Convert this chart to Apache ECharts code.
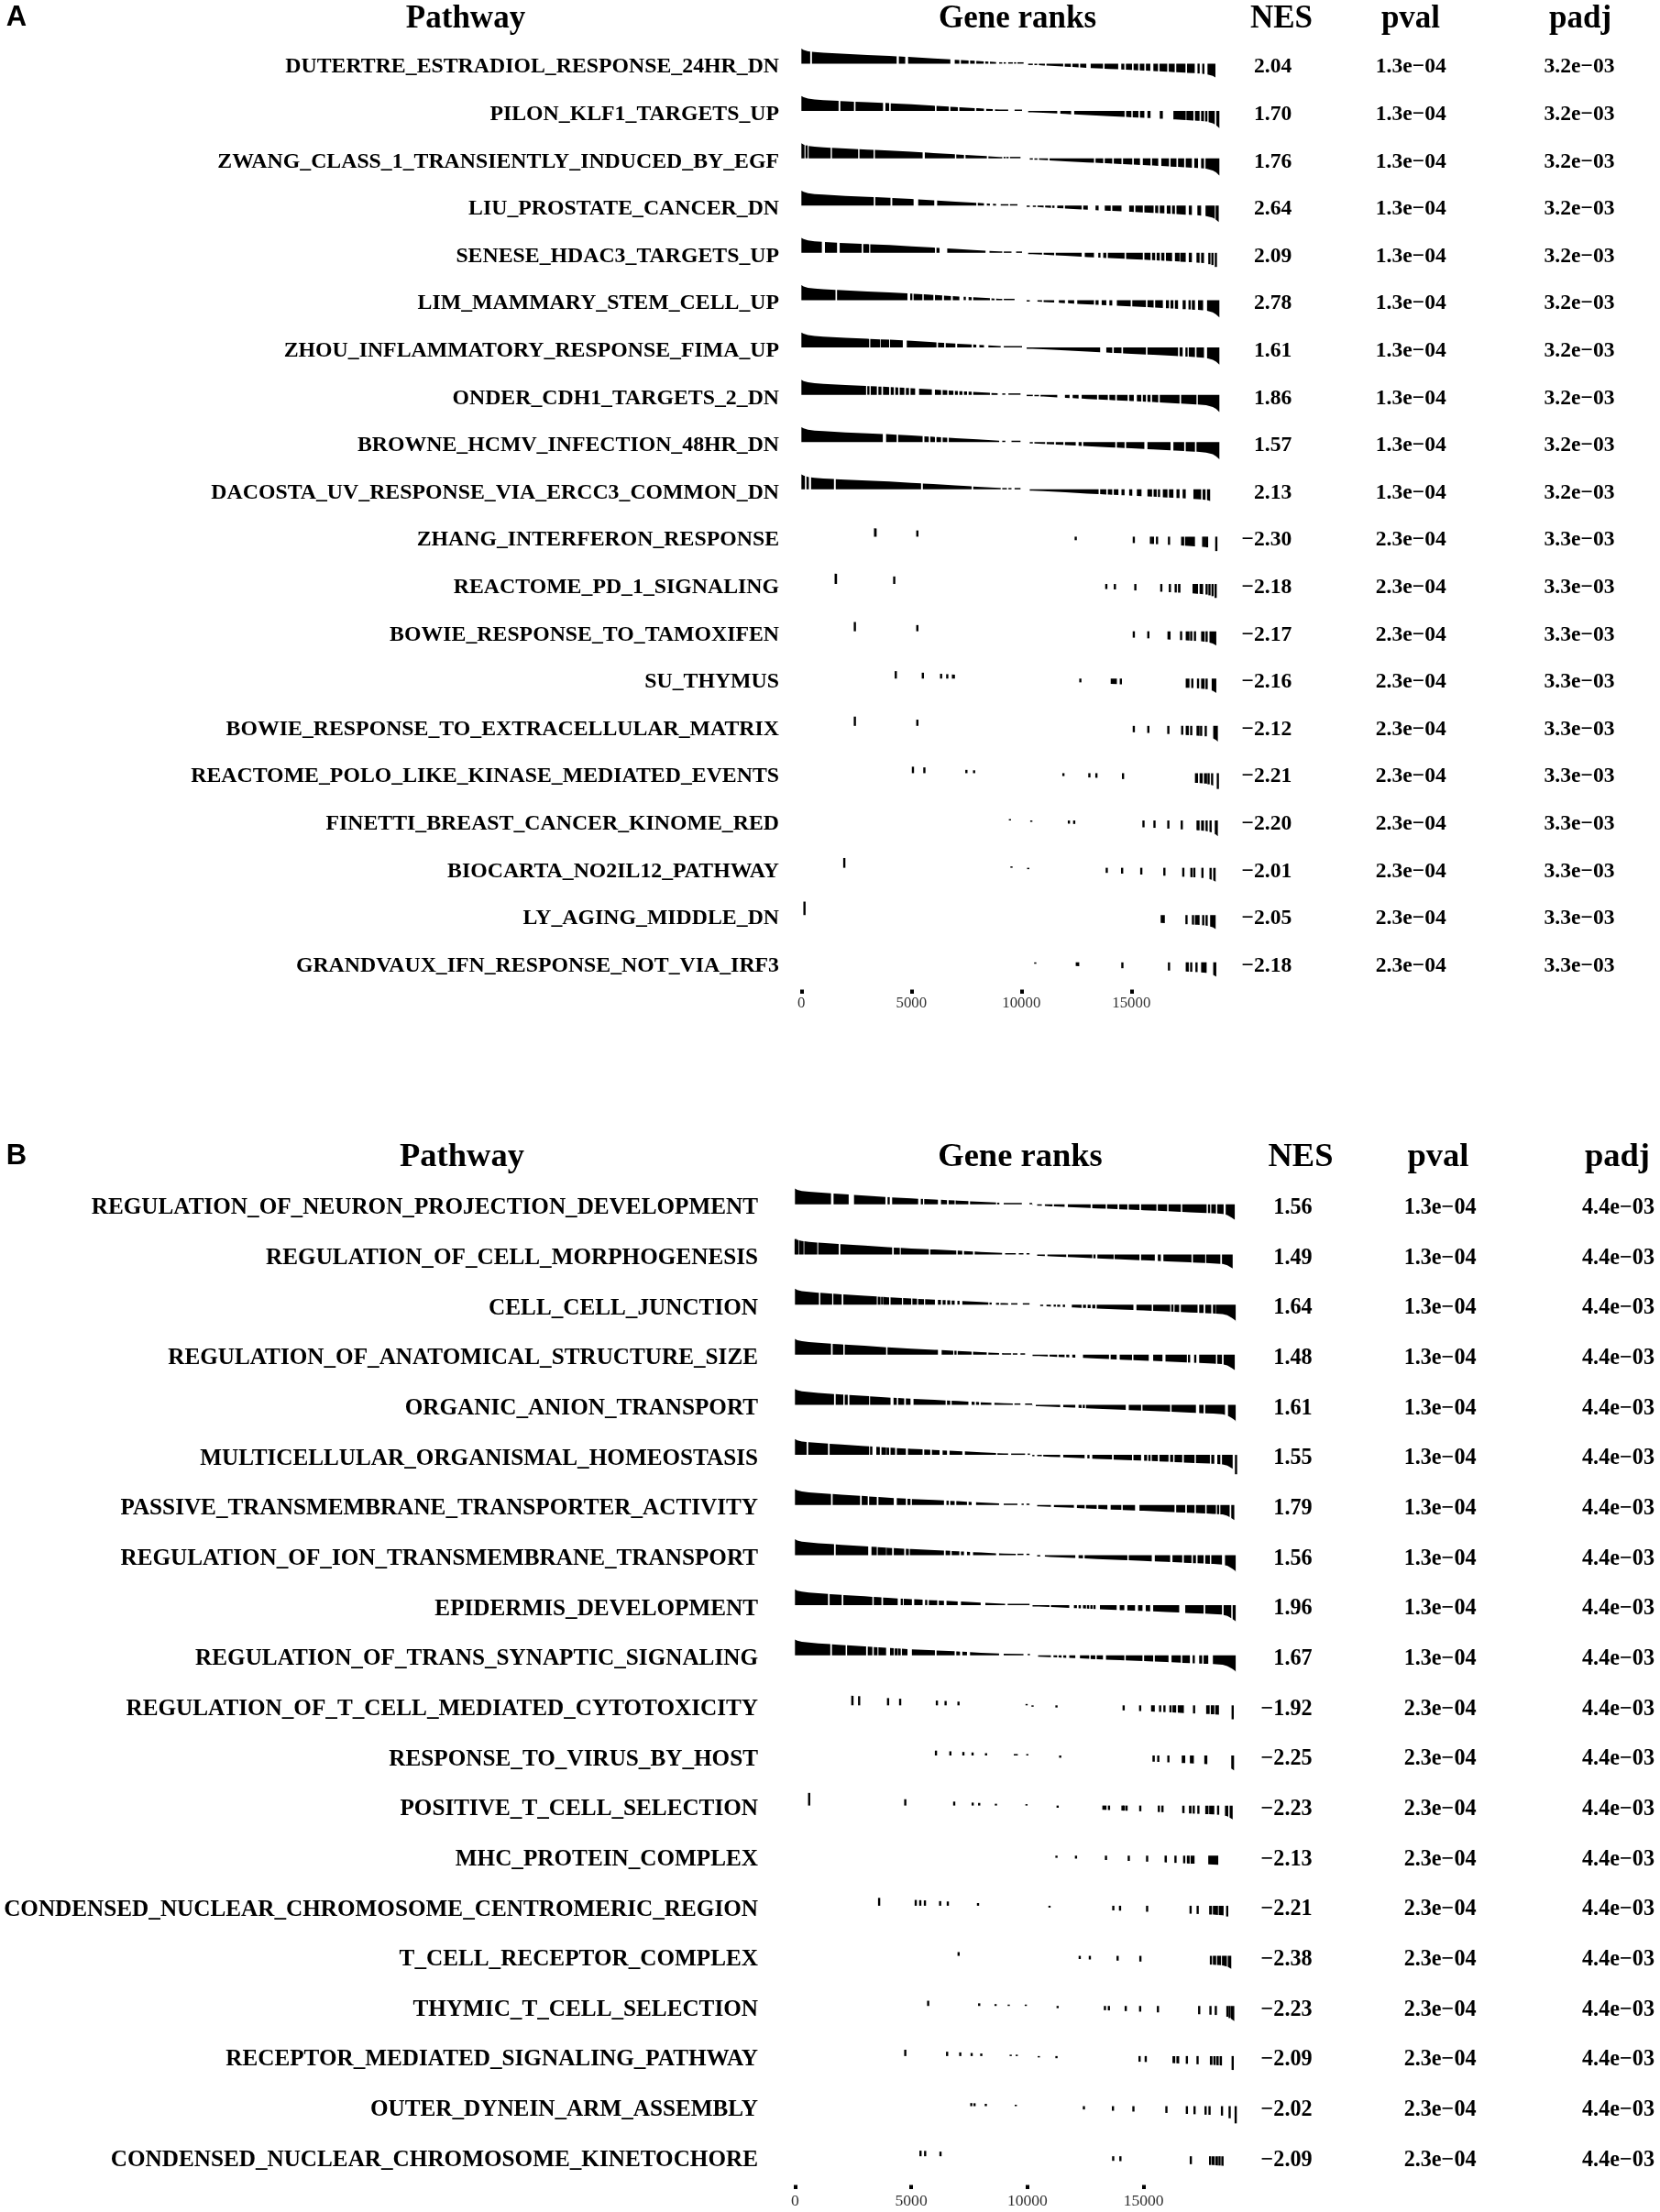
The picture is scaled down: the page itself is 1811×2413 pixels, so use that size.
<!DOCTYPE html>
<html lang="en">
<head>
<meta charset="UTF-8">
<title>Gene set enrichment table</title>
<script src="https://cdn.jsdelivr.net/npm/echarts@6/dist/echarts.min.js"></script>
<style>
    html, body { margin: 0; padding: 0; background: #fff; }
    #main { width: 1811px; height: 2413px; }
</style>
</head>
<body>
<div id="main"></div>
<script>
// ---------- panel A ----------
var namesA = ['DUTERTRE_ESTRADIOL_RESPONSE_24HR_DN', 'PILON_KLF1_TARGETS_UP', 'ZWANG_CLASS_1_TRANSIENTLY_INDUCED_BY_EGF',
    'LIU_PROSTATE_CANCER_DN', 'SENESE_HDAC3_TARGETS_UP', 'LIM_MAMMARY_STEM_CELL_UP', 'ZHOU_INFLAMMATORY_RESPONSE_FIMA_UP',
    'ONDER_CDH1_TARGETS_2_DN', 'BROWNE_HCMV_INFECTION_48HR_DN', 'DACOSTA_UV_RESPONSE_VIA_ERCC3_COMMON_DN',
    'ZHANG_INTERFERON_RESPONSE', 'REACTOME_PD_1_SIGNALING', 'BOWIE_RESPONSE_TO_TAMOXIFEN', 'SU_THYMUS',
    'BOWIE_RESPONSE_TO_EXTRACELLULAR_MATRIX', 'REACTOME_POLO_LIKE_KINASE_MEDIATED_EVENTS', 'FINETTI_BREAST_CANCER_KINOME_RED',
    'BIOCARTA_NO2IL12_PATHWAY', 'LY_AGING_MIDDLE_DN', 'GRANDVAUX_IFN_RESPONSE_NOT_VIA_IRF3'];
var nesA = [2.04, 1.70, 1.76, 2.64, 2.09, 2.78, 1.61, 1.86, 1.57, 2.13,
    -2.30, -2.18, -2.17, -2.16, -2.12, -2.21, -2.20, -2.01, -2.05, -2.18];
var pvalA = [1.3e-4, 1.3e-4, 1.3e-4, 1.3e-4, 1.3e-4, 1.3e-4, 1.3e-4, 1.3e-4, 1.3e-4, 1.3e-4,
    2.3e-4, 2.3e-4, 2.3e-4, 2.3e-4, 2.3e-4, 2.3e-4, 2.3e-4, 2.3e-4, 2.3e-4, 2.3e-4];
var padjA = [3.2e-3, 3.2e-3, 3.2e-3, 3.2e-3, 3.2e-3, 3.2e-3, 3.2e-3, 3.2e-3, 3.2e-3, 3.2e-3,
    3.3e-3, 3.3e-3, 3.3e-3, 3.3e-3, 3.3e-3, 3.3e-3, 3.3e-3, 3.3e-3, 3.3e-3, 3.3e-3];
// ranked statistic (scaled to max 1) along the gene list
var envRankA = [0, 100, 300, 600, 1000, 2000, 3000, 4000, 5000, 6000, 7000, 8000, 9000, 10000, 10200, 10500,
    11000, 12000, 13000, 14000, 15000, 16000, 17000, 18000, 18400, 18700, 18850, 19000];
var envStatA = [1.00, 0.92, 0.83, 0.77, 0.73, 0.65, 0.58, 0.52, 0.44, 0.35, 0.26, 0.18, 0.09, 0.02, 0.00, -0.08,
    -0.12, -0.20, -0.28, -0.35, -0.42, -0.49, -0.57, -0.65, -0.70, -0.82, -0.95, -1.15];
// gene hits per pathway, as [first rank, last rank] runs
var hitsA = [
    [[0,400],[480,4330],[4430,4720],[4850,6770],[6970,7180],[7250,7600],[7670,7880],[7950,8290],[8360,8500],[8570,8850],[8990,9130],[9200,9290],[9400,9610],[9680,9750],[9820,10100],[10310,10520],[10590,10720],[10790,11070],[11140,11900],[11970,12250],[12320,12600],[12670,12950],[13150,13710],[13780,14400],[14540,14680],[14750,15030],[15100,15310],[15380,15590],[15660,15860],[16000,16210],[16280,16630],[16700,16970],[17040,17460],[17530,17880],[18020,18090],[18220,18320],[18460,18820]],
    [[0,1690],[1770,2390],[2460,3710],[3820,3990],[4060,6070],[6140,6700],[6770,7110],[7180,7880],[7950,8300],[8400,8700],[8800,9400],[9690,10030],[10310,11630],[11770,12260],[12400,14690],[14760,15000],[15060,15320],[15390,15590],[15730,15870],[16290,16430],[16910,17470],[17500,17820],[17890,18100],[18170,18300],[18370,18440],[18510,18790],[18860,19000]],
    [[0,140],[190,280],[330,1330],[1390,2580],[2640,3280],[3340,5510],[5610,6980],[7040,7390],[7460,8430],[8500,9130],[9200,9280],[9330,9410],[9480,9960],[10380,10520],[10590,10730],[10800,11210],[11280,13300],[13370,13720],[13790,14130],[14200,14550],[14620,15040],[15110,15390],[15520,15870],[15940,16220],[16360,16710],[16780,17050],[17120,17400],[17470,17750],[17860,18030],[18170,18300],[18370,19000]],
    [[0,3290],[3360,4050],[4130,5100],[5310,6040],[6170,7950],[8020,8300],[8430,8570],[8710,8850],[9060,9410],[9480,9820],[10240,10380],[10520,10660],[10730,11010],[11080,11350],[11420,11490],[11630,11910],[11980,12740],[12810,13020],[13370,13510],[13790,14060],[14130,14550],[14900,15110],[15180,15520],[15590,16010],[16080,16220],[16290,16500],[16610,16780],[16850,16980],[17050,17470],[17610,17750],[18000,18170],[18370,18790],[18830,18970]],
    [[0,930],[1070,1620],[1740,2740],[2810,3080],[3130,6070],[6140,6280],[6630,8370],[8550,9130],[9200,9550],[9760,10030],[10310,10940],[11010,11490],[11560,12740],[12880,13300],[13510,13580],[13720,13860],[13930,14690],[14760,15520],[15590,15870],[15940,16080],[16150,16290],[16360,16500],[16570,16850],[16980,17190],[17220,17470],[17610,17750],[17960,18100],[18170,18300],[18510,18580],[18650,18720],[18790,18890]],
    [[0,1550],[1620,4820],[4960,5030],[5100,5500],[5560,6000],[6070,6400],[6480,6800],[6880,7180],[7390,7460],[7600,7740],[7810,8570],[8640,8780],[8850,9130],[9200,9690],[10240,10380],[10730,10940],[11010,11490],[11700,11980],[12120,12400],[12540,13300],[13370,13510],[13650,13860],[14000,14130],[14340,14970],[15040,15660],[15730,16010],[16080,16430],[16570,16710],[16780,16910],[16980,17120],[17330,17470],[17610,17680],[17750,17890],[18030,18260],[18440,19000]],
    [[0,3080],[3130,3570],[3600,3990],[4030,4610],[4790,6140],[6210,6490],[6560,7000],[7080,7740],[7810,7950],[8090,8300],[8500,9060],[9200,10030],[10240,13580],[13860,14130],[14200,14550],[14620,15660],[15730,17120],[17190,17330],[17470,17540],[17610,17890],[17960,18300],[18440,19000]],
    [[0,2940],[3010,3080],[3150,3430],[3500,3640],[3710,3990],[4060,4200],[4270,4400],[4470,4680],[4750,4890],[4960,5170],[5350,5930],[6070,6350],[6420,6630],[6700,6910],[6980,7110],[7180,7320],[7390,7530],[7600,7740],[7810,8570],[8640,8920],[9130,9270],[9410,9960],[10240,10520],[10590,10800],[10870,11630],[11980,12190],[12330,12600],[12740,13440],[13510,13930],[14000,14270],[14340,14830],[14900,15110],[15250,15450],[15520,15660],[15730,15870],[15940,16220],[16290,17190],[17260,17960],[18020,19000]],
    [[0,3700],[3850,4330],[4400,5510],[5590,5790],[5860,6070],[6140,6350],[6420,6630],[6700,8990],[9130,9270],[9550,9960],[10380,10520],[10590,11080],[11150,11490],[11560,11910],[11980,12470],[12600,12740],[12810,14270],[14340,14690],[14760,15590],[15730,16780],[16910,17400],[17470,17890],[17960,19000]],
    [[0,160],[230,340],[440,1480],[1560,5440],[5520,7740],[7810,9060],[9130,9340],[9410,9550],[9690,9960],[10380,13510],[13580,13860],[13930,14130],[14200,14410],[14550,14690],[14900,15040],[15250,15460],[15730,15940],[16010,16150],[16220,16290],[16430,16640],[16710,16910],[17050,17190],[17330,17470],[17820,18170],[18240,18370],[18440,18580]],
    [[3300,3420],[5270,5270],[12470,12470],[15110,15110],[15880,15900],[15960,16000],[16150,16180],[16700,16720],[17260,17400],[17440,17890],[18230,18300],[18330,18370],[18440,18440],[18860,18860]],
    [[1510,1620],[4220,4220],[13860,13860],[14250,14250],[15180,15180],[16360,16360],[16750,16750],[16980,17050],[17120,17230],[17780,18030],[18100,18260],[18420,18420],[18550,18550],[18690,18690],[18830,18830]],
    [[2430,2430],[5270,5270],[15110,15110],[15770,15770],[16640,16780],[17260,17260],[17470,17640],[17720,17720],[17890,17890],[18170,18330],[18420,18420],[18550,18860]],
    [[4290,4290],[5520,5520],[6350,6350],[6630,6630],[6840,6980],[12680,12680],[14060,14340],[14520,14520],[17470,17640],[17720,17820],[18030,18030],[18170,18330],[18420,18420],[18650,18860]],
    [[2430,2430],[5270,5270],[15110,15110],[15770,15770],[16680,16680],[17260,17360],[17470,17610],[17720,17720],[17960,18100],[18170,18170],[18380,18380],[18720,18930]],
    [[5070,5070],[5590,5590],[7500,7500],[7850,7850],[11910,11910],[13090,13090],[13410,13410],[14620,14620],[17890,18030],[18100,18240],[18300,18440],[18510,18510],[18620,18720],[18930,18930]],
    [[9480,9480],[10450,10450],[12160,12160],[12400,12400],[15550,15550],[16050,16050],[16680,16680],[17290,17290],[17960,18100],[18170,18300],[18370,18470],[18550,18650],[18790,18930]],
    [[1900,2000],[9550,9550],[10310,10310],[13880,13880],[14580,14580],[15450,15450],[16500,16500],[17360,17360],[17680,17780],[17860,17860],[18230,18230],[18550,18650],[18720,18830]],
    [[140,140],[16330,16520],[17470,17540],[17750,17850],[17890,18100],[18230,18300],[18370,18470],[18580,18830]],
    [[10630,10630],[12470,12630],[14590,14590],[16710,16710],[17470,17610],[17720,17720],[17960,17960],[18170,18420],[18720,18860]]
];

// ---------- panel B ----------
var namesB = ['REGULATION_OF_NEURON_PROJECTION_DEVELOPMENT', 'REGULATION_OF_CELL_MORPHOGENESIS', 'CELL_CELL_JUNCTION',
    'REGULATION_OF_ANATOMICAL_STRUCTURE_SIZE', 'ORGANIC_ANION_TRANSPORT', 'MULTICELLULAR_ORGANISMAL_HOMEOSTASIS',
    'PASSIVE_TRANSMEMBRANE_TRANSPORTER_ACTIVITY', 'REGULATION_OF_ION_TRANSMEMBRANE_TRANSPORT', 'EPIDERMIS_DEVELOPMENT',
    'REGULATION_OF_TRANS_SYNAPTIC_SIGNALING', 'REGULATION_OF_T_CELL_MEDIATED_CYTOTOXICITY', 'RESPONSE_TO_VIRUS_BY_HOST',
    'POSITIVE_T_CELL_SELECTION', 'MHC_PROTEIN_COMPLEX', 'CONDENSED_NUCLEAR_CHROMOSOME_CENTROMERIC_REGION',
    'T_CELL_RECEPTOR_COMPLEX', 'THYMIC_T_CELL_SELECTION', 'RECEPTOR_MEDIATED_SIGNALING_PATHWAY',
    'OUTER_DYNEIN_ARM_ASSEMBLY', 'CONDENSED_NUCLEAR_CHROMOSOME_KINETOCHORE'];
var nesB = [1.56, 1.49, 1.64, 1.48, 1.61, 1.55, 1.79, 1.56, 1.96, 1.67,
    -1.92, -2.25, -2.23, -2.13, -2.21, -2.38, -2.23, -2.09, -2.02, -2.09];
var pvalB = [1.3e-4, 1.3e-4, 1.3e-4, 1.3e-4, 1.3e-4, 1.3e-4, 1.3e-4, 1.3e-4, 1.3e-4, 1.3e-4,
    2.3e-4, 2.3e-4, 2.3e-4, 2.3e-4, 2.3e-4, 2.3e-4, 2.3e-4, 2.3e-4, 2.3e-4, 2.3e-4];
var padjB = [4.4e-3, 4.4e-3, 4.4e-3, 4.4e-3, 4.4e-3, 4.4e-3, 4.4e-3, 4.4e-3, 4.4e-3, 4.4e-3,
    4.4e-3, 4.4e-3, 4.4e-3, 4.4e-3, 4.4e-3, 4.4e-3, 4.4e-3, 4.4e-3, 4.4e-3, 4.4e-3];
var envRankB = [0, 100, 300, 600, 1000, 2000, 3000, 4000, 5000, 6000, 7000, 8000, 9000, 10000, 10200, 10500,
    11000, 12000, 13000, 14000, 15000, 16000, 17000, 18000, 18400, 18600, 18800, 18900, 18950, 19000];
var envStatB = [1.00, 0.92, 0.85, 0.80, 0.75, 0.65, 0.56, 0.46, 0.38, 0.31, 0.24, 0.16, 0.09, 0.01, 0.00, -0.08,
    -0.12, -0.18, -0.25, -0.31, -0.37, -0.43, -0.50, -0.56, -0.60, -0.68, -0.85, -0.95, -1.00, -1.45];
var hitsB = [
    [[0,1550],[1660,2310],[2540,3890],[4010,4050],[4180,5300],[5430,5490],[5560,6150],[6280,6540],[6610,6870],[6910,7460],[7530,8650],[8710,8780],[8980,9760],[10090,10220],[10420,10620],[10750,11080],[11140,11600],[11740,12720],[12790,13370],[13430,13880],[13950,14300],[14360,14820],[14890,15550],[15610,16010],[16070,16600],[16660,17710],[17780,17850],[17910,18110],[18170,18440],[18530,18920]],
    [[0,60],[90,110],[170,370],[400,960],[1000,1880],[1950,4180],[4250,4510],[4550,5760],[5820,6940],[7000,7200],[7270,7660],[7730,8910],[9040,9500],[9630,9830],[9960,10090],[10420,10750],[10860,11670],[11740,12790],[12850,12920],[13010,13710],[13750,14820],[14890,15480],[15610,15740],[15850,17060],[17120,17650],[17690,18300],[18370,18830]],
    [[0,1030],[1090,1600],[1650,2010],[2080,3520],[3560,3680],[3720,3780],[3810,4050],[4110,4600],[4650,5000],[5050,5250],[5300,5550],[5600,6020],[6150,6280],[6350,6480],[6550,6680],[6740,6870],[7000,7070],[7200,8320],[8380,8450],[8650,8780],[8840,9170],[9300,9570],[9800,10090],[10550,10680],[10820,11010],[11140,11210],[11280,11410],[11540,11600],[11910,12330],[12390,12520],[12590,12720],[12790,12920],[12980,14560],[14690,15350],[15410,16140],[16200,16270],[16330,16530],[16600,17320],[17390,17580],[17650,17910],[17980,18100],[18110,18960]],
    [[0,1550],[1620,2080],[2140,3920],[3980,6150],[6310,6810],[6870,6940],[7000,7600],[7660,8250],[8320,8780],[8910,9300],[9370,9570],[9700,9900],[10220,10880],[10950,11280],[11340,11600],[11670,11800],[11930,12060],[12390,13510],[13580,13840],[13970,14500],[14560,15220],[15410,15810],[15940,16860],[16920,16990],[17190,17250],[17390,18110],[18170,18370],[18440,18920]],
    [[0,1680],[1750,2080],[2140,2270],[2340,3190],[3230,4110],[4240,4380],[4440,4700],[4770,4970],[5100,6480],[6540,6680],[6740,7460],[7600,7730],[7790,7920],[7990,8450],[8580,9370],[9440,9700],[9900,10220],[10360,11410],[11540,12060],[12200,12330],[12390,12460],[12520,14230],[14360,14890],[14950,16140],[16200,17250],[17390,17580],[17650,18500],[18630,18960]],
    [[0,500],[570,1420],[1490,3190],[3230,3330],[3500,3650],[3720,3920],[3940,4050],[4110,4310],[4380,4770],[4860,5490],[5560,5820],[5890,6220],[6350,6540],[6650,7200],[7310,8650],[8710,9170],[9300,9900],[10030,10090],[10220,10290],[10420,10620],[10680,11410],[11540,12460],[12590,12660],[12790,13640],[13710,14500],[14560,14890],[15020,15150],[15220,15280],[15350,15610],[15680,16070],[16140,16270],[16330,16660],[16730,17190],[17250,17850],[17910,18040],[18170,18300],[18370,18830],[18950,19000]],
    [[0,1550],[1620,2800],[2870,3130],[3190,3520],[3590,4250],[4380,4770],[4840,4970],[5030,6410],[6520,6610],[6680,6870],[6940,7400],[7470,7600],[7790,8780],[8980,9570],[9760,9830],[9960,10090],[10420,11010],[11140,12000],[12130,12460],[12520,12980],[13050,13440],[13580,14040],[14100,14630],[14820,16330],[16400,16790],[16860,17190],[17250,17650],[17710,18110],[18170,18240],[18300,18700],[18770,18900]],
    [[0,1680],[1750,3150],[3290,3520],[3560,3920],[3940,4180],[4250,4700],[4770,4900],[4940,6410],[6480,6680],[6740,7070],[7140,7270],[7400,7530],[7660,8650],[8780,9500],[9570,9830],[9960,10090],[10420,10550],[10750,12060],[12200,12390],[12460,14300],[14360,15350],[15480,16140],[16240,16660],[16730,17060],[17120,17250],[17320,17580],[17650,17850],[17910,18370],[18500,18960]],
    [[0,1420],[1490,2010],[2080,3330],[3390,3720],[3790,4420],[4550,4640],[4680,5030],[5130,5490],[5600,5690],[5760,6120],[6190,6410],[6520,7000],[7140,7990],[8190,9040],[9150,10090],[10220,10950],[11010,11800],[12000,12130],[12200,12300],[12390,12520],[12560,12660],[12720,12790],[12850,12920],[13120,13840],[13970,14170],[14300,14630],[14760,14950],[15090,15280],[15410,16530],[16790,17580],[17650,18370],[18440,18770],[18830,18960]],
    [[0,1520],[1590,2180],[2240,3060],[3130,3330],[3390,3550],[3590,3920],[4090,4250],[4290,4420],[4440,4550],[4600,4840],[5030,6020],[6090,6870],[6940,7100],[7200,7400],[7530,8780],[8980,9830],[10030,10090],[10460,11010],[11120,11280],[11340,11470],[11540,11670],[11800,12060],[12260,12660],[12720,12920],[12980,13250],[13380,14170],[14230,14950],[15020,15410],[15480,16070],[16200,16600],[16660,16990],[17120,17190],[17390,17520],[17580,17780],[17980,18960]],
    [[2420,2520],[2730,2790],[3970,4040],[4480,4570],[6070,6140],[6450,6510],[7010,7060],[9950,9980],[10220,10220],[11250,11250],[14140,14140],[14850,14850],[15320,15480],[15680,15740],[15850,15940],[16110,16200],[16240,16400],[16470,16730],[17130,17210],[17690,17840],[17890,18040],[18080,18240],[18800,18860]],
    [[6030,6100],[6660,6710],[7210,7280],[7600,7680],[8190,8250],[9440,9480],[9520,9560],[9970,10020],[11410,11410],[15380,15480],[15590,15670],[16040,16090],[16640,16790],[16990,17160],[17610,17740],[18770,18890]],
    [[600,620],[4740,4750],[6810,6890],[7600,7690],[7890,7960],[8620,8670],[9960,9960],[11300,11300],[13250,13290],[13330,13380],[13480,13540],[14070,14110],[14130,14170],[14230,14300],[14820,14890],[15610,15700],[15770,15850],[16660,16760],[16950,17060],[17120,17190],[17320,17390],[17650,17790],[17820,18040],[18170,18240],[18500,18640],[18700,18830]],
    [[11250,11250],[12090,12090],[13380,13380],[14360,14360],[15150,15150],[15900,16000],[16340,16400],[16700,16790],[16860,16980],[17020,17190],[17780,18210]],
    [[3600,3640],[5180,5210],[5380,5400],[5580,5600],[6240,6250],[6570,6580],[7850,7900],[10950,10950],[13660,13730],[13960,14010],[15150,15150],[17010,17030],[17310,17340],[17820,17940],[17980,18200],[18230,18440],[18590,18600]],
    [[7010,7070],[12240,12260],[12670,12700],[13880,13880],[14860,14860],[17850,17940],[17980,18120],[18160,18330],[18370,18580],[18620,18770]],
    [[5730,5730],[7920,7930],[8590,8670],[9190,9200],[9930,9930],[11300,11300],[13290,13380],[13480,13530],[14230,14230],[14850,14850],[15590,15640],[17390,17390],[17850,17900],[18090,18120],[18570,18640],[18680,18720],[18760,18900]],
    [[4740,4750],[6520,6570],[7110,7110],[7600,7600],[7990,8040],[9280,9280],[9540,9540],[10490,10490],[11250,11250],[14800,14850],[15070,15110],[16240,16360],[16410,16530],[16860,16860],[17320,17320],[17850,17960],[18000,18100],[18130,18230],[18270,18370],[18830,18830]],
    [[7570,7600],[7710,7740],[8210,8210],[9500,9500],[12430,12430],[13680,13680],[14560,14560],[15980,15980],[16860,16860],[17190,17190],[17650,17680],[17820,17850],[18370,18370],[18700,18700],[18960,18960]],
    [[5370,5430],[5570,5630],[6260,6260],[13660,13720],[13970,14030],[17030,17030],[17820,17900],[17930,18050],[18080,18200],[18230,18300],[18340,18440]]
];

var rankTicks = [0, 5000, 10000, 15000];

// ---------- helpers ----------
var SERIF = 'Liberation Serif';

function fmtNes(v) {
    return v.toFixed(2).replace('-', '\u2212');
}
function fmtP(v) {
    var parts = v.toExponential(1).split('e');
    var ex = parseInt(parts[1], 10);
    var abs = Math.abs(ex);
    return parts[0] + 'e' + (ex < 0 ? '\u2212' : '+') + (abs < 10 ? '0' : '') + abs;
}

function makeRender(envRank, envStat) {
    function statAt(r) {
        if (r <= envRank[0]) return envStat[0];
        for (var k = 1; k < envRank.length; k++) {
            if (r <= envRank[k]) {
                var t = (r - envRank[k - 1]) / (envRank[k] - envRank[k - 1]);
                return envStat[k - 1] + t * (envStat[k] - envStat[k - 1]);
            }
        }
        return envStat[envStat.length - 1];
    }
    return function (params, api) {
        var row = api.value(0), s = api.value(1), e = api.value(2);
        var band = api.size([0, 1])[1];
        var p0 = api.coord([s, row]);
        var base = p0[1] - 0.075 * band;
        var amp = 0.316 * band;
        function yOf(r) {
            var h = amp * statAt(r);
            if (Math.abs(h) < 1.5) h = h < 0 ? -1.5 : 1.5;
            return base - h;
        }
        var x0 = p0[0], x1 = api.coord([e, row])[0];
        if (x1 - x0 < 2.4) {
            var xm = (x0 + x1) / 2, y = yOf((s + e) / 2);
            return {
                type: 'rect',
                shape: {x: xm - 1.2, y: Math.min(y, base), width: 2.4, height: Math.abs(base - y)},
                style: {fill: '#000'}
            };
        }
        var pts = [[x0, base], [x0, yOf(s)]];
        for (var k = 0; k < envRank.length; k++) {
            if (envRank[k] > s && envRank[k] < e) {
                pts.push([api.coord([envRank[k], row])[0], yOf(envRank[k])]);
            }
        }
        pts.push([x1, yOf(e)], [x1, base]);
        return {type: 'polygon', shape: {points: pts}, style: {fill: '#000'}};
    };
}

function runData(hits) {
    var out = [];
    hits.forEach(function (runs, i) {
        runs.forEach(function (r) { out.push([i, r[0], r[1]]); });
    });
    return out;
}

// ---------- layout ----------
var panels = [
    {names: namesA, nes: nesA, pval: pvalA, padj: padjA, envRank: envRankA, envStat: envStatA, hits: hitsA,
        left: 874.3, top: 47.5, width: 456, height: 1032,
        nameFont: 23.8, nameMargin: 24.3, valFont: 23.6, nesMargin: 79, pvalMargin: 209, padjMargin: 392.7,
        tickFont: 16.8, tickMargin: 7,
        headY: 21, headFont: 35, heads: [['Pathway', 508], ['Gene ranks', 1110], ['NES', 1398], ['pval', 1539], ['padj', 1724]],
        tagY: 19.5, tag: 'A'},
    {names: namesB, nes: nesB, pval: pvalB, padj: padjB, envRank: envRankB, envStat: envStatB, hits: hitsB,
        left: 867.3, top: 1290.6, width: 481.8, height: 1093,
        nameFont: 25.2, nameMargin: 40.3, valFont: 24.2, nesMargin: 82.6, pvalMargin: 222, padjMargin: 416.4,
        tickFont: 17.6, tickMargin: 8.5,
        headY: 1263, headFont: 36.5, heads: [['Pathway', 504], ['Gene ranks', 1113], ['NES', 1419], ['pval', 1569], ['padj', 1764.5]],
        tagY: 1261, tag: 'B'}
];

var option = {
    animation: false,
    backgroundColor: '#fff',
    grid: [], xAxis: [], yAxis: [], series: [], graphic: []
};

panels.forEach(function (p, g) {
    option.grid.push({left: p.left, top: p.top, width: p.width, height: p.height, containLabel: false});
    option.xAxis.push({
        gridIndex: g, type: 'value', min: 0, max: 19000, position: 'bottom',
        axisLine: {show: false, onZero: false}, splitLine: {show: false},
        axisTick: {show: true, customValues: rankTicks, length: 4.5, lineStyle: {color: '#000', width: 4}},
        axisLabel: {customValues: rankTicks, margin: p.tickMargin, fontFamily: SERIF, fontSize: p.tickFont, color: '#333',
            formatter: function (v) { return String(v); }}
    });
    var yBase = option.yAxis.length;
    option.yAxis.push({gridIndex: g, type: 'value', min: -0.5, max: 19.5, inverse: true, show: false,
        axisLine: {onZero: false}});
    function catAxis(position, margin, align, font, weight, formatter) {
        return {
            gridIndex: g, type: 'category', data: p.names, inverse: true, position: position, offset: 0,
            axisLine: {show: false, onZero: false}, axisTick: {show: false}, splitLine: {show: false},
            axisLabel: {interval: 0, margin: margin, align: align, fontFamily: SERIF, fontWeight: weight,
                fontSize: font, color: '#000', formatter: formatter}
        };
    }
    option.yAxis.push(catAxis('left', p.nameMargin, 'right', p.nameFont, 'bold', null));
    option.yAxis.push(catAxis('right', p.nesMargin, 'right', p.valFont, 'bold', function (v, i) { return fmtNes(p.nes[i]); }));
    option.yAxis.push(catAxis('right', p.pvalMargin, 'center', p.valFont, 'bold', function (v, i) { return fmtP(p.pval[i]); }));
    option.yAxis.push(catAxis('right', p.padjMargin, 'center', p.valFont, 'bold', function (v, i) { return fmtP(p.padj[i]); }));

    option.series.push({
        type: 'custom', name: 'ranks' + p.tag, xAxisIndex: g, yAxisIndex: yBase,
        encode: {x: [1, 2], y: 0}, silent: true,
        renderItem: makeRender(p.envRank, p.envStat),
        data: runData(p.hits)
    });

    p.heads.forEach(function (h) {
        option.graphic.push({
            type: 'text', x: h[1], y: p.headY, silent: true,
            style: {text: h[0], fontFamily: SERIF, fontWeight: 'bold', fontSize: p.headFont, fill: '#000',
                align: 'center', verticalAlign: 'middle'}
        });
    });
    option.graphic.push({
        type: 'text', x: 18, y: p.tagY, silent: true,
        style: {text: p.tag, fontFamily: 'Liberation Sans', fontWeight: 'bold', fontSize: 31, fill: '#000',
            align: 'center', verticalAlign: 'middle'}
    });
});

var myChart = echarts.init(document.getElementById('main'));
myChart.setOption(option);
</script>
</body>
</html>
